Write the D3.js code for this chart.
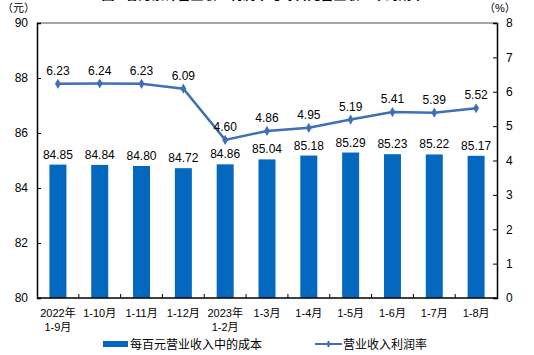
<!DOCTYPE html>
<html><head><meta charset="utf-8">
<script src="https://cdn.jsdelivr.net/npm/d3@7/dist/d3.min.js"></script>
<style>
html,body{margin:0;padding:0;background:#fff;}
svg{display:block;}
text{font-family:"Liberation Sans",Arial,"Noto Sans CJK SC",sans-serif;fill:#000;}
.cjk{font-family:"Liberation Sans","Noto Sans CJK SC",sans-serif;}
</style></head>
<body>
<svg id="c" width="534" height="355"></svg>
<script>
const categories = [["2022年","1-9月"],["1-10月"],["1-11月"],["1-12月"],["2023年","1-2月"],["1-3月"],["1-4月"],["1-5月"],["1-6月"],["1-7月"],["1-8月"]];
const costPer100 = [84.85,84.84,84.80,84.72,84.86,85.04,85.18,85.29,85.23,85.22,85.17];
const profitRate = [6.23,6.24,6.23,6.09,4.60,4.86,4.95,5.19,5.41,5.39,5.52];
const leftTicks = [80,82,84,86,88,90];
const rightTicks = [0,1,2,3,4,5,6,7,8];
const seriesNames = ["每百元营业收入中的成本","营业收入利润率"];
const title = "图2  各月累计营业收入利润率与每百元营业收入中的成本";

const svg = d3.select("#c");
const L=37, R=497, T=23, B=298;
const barColor="#0568BF", lineColor="#3F6FB7";

const xb = d3.scaleBand().domain(d3.range(categories.length)).range([L,R]);
const yL = d3.scaleLinear().domain([80,90]).range([B,T]);
const yR = d3.scaleLinear().domain([0,8]).range([B,T]);

// title (clipped at top, as in the reference)
svg.append("text").attr("x",263).attr("y",-1).attr("text-anchor","middle")
  .attr("class","cjk").style("font-size","13px").style("font-weight","bold").text(title);

// bars
svg.selectAll("rect.bar").data(costPer100).join("rect").attr("class","bar")
  .attr("x",(d,i)=>xb(i)+xb.bandwidth()/2-8.5).attr("width",17)
  .attr("y",d=>yL(d)).attr("height",d=>B-yL(d)).attr("fill",barColor);

// bar labels
svg.selectAll("text.bl").data(costPer100).join("text").attr("class","bl")
  .attr("x",(d,i)=>xb(i)+xb.bandwidth()/2).attr("y",d=>yL(d)-6)
  .attr("text-anchor","middle").style("font-size","12px").text(d=>d.toFixed(2));

// frame: top gray
svg.append("line").attr("x1",L).attr("x2",R).attr("y1",T).attr("y2",T).attr("stroke","#888").attr("stroke-width",1.5);

// left axis
const gl = svg.append("g").attr("transform",`translate(${L},0)`)
  .call(d3.axisLeft(yL).tickValues(leftTicks).tickSize(-4).tickPadding(9).tickFormat(d3.format("d")));
gl.select(".domain").attr("stroke","#000").attr("stroke-width",1.5);
gl.selectAll(".tick line").attr("stroke","#000");
gl.selectAll(".tick text").style("font-size","12px").style("font-family","Liberation Sans, Arial, sans-serif");

// right axis
const gr = svg.append("g").attr("transform",`translate(${R},0)`)
  .call(d3.axisRight(yR).tickValues(rightTicks).tickSize(-4).tickPadding(9).tickFormat(d3.format("d")));
gr.select(".domain").attr("stroke","#000").attr("stroke-width",1.5);
gr.selectAll(".tick line").attr("stroke","#000");
gr.selectAll(".tick text").style("font-size","12px").style("font-family","Liberation Sans, Arial, sans-serif");

// bottom axis
svg.append("line").attr("x1",L).attr("x2",R).attr("y1",B).attr("y2",B).attr("stroke","#000").attr("stroke-width",1.5);
svg.selectAll("line.xt").data(d3.range(1,categories.length)).join("line").attr("class","xt")
  .attr("x1",d=>xb(d)).attr("x2",d=>xb(d)).attr("y1",B).attr("y2",B-4).attr("stroke","#000");

// x labels
categories.forEach((lines,i)=>{
  lines.forEach((s,j)=>{
    svg.append("text").attr("class","cjk").attr("x",xb(i)+xb.bandwidth()/2).attr("y",317+j*14)
      .attr("text-anchor","middle").style("font-size","11px").text(s);
  });
});

// line
const pts = profitRate.map((d,i)=>[xb(i)+xb.bandwidth()/2, yR(d)]);
svg.append("path").attr("d",d3.line()(pts)).attr("fill","none").attr("stroke",lineColor).attr("stroke-width",2.5);
svg.selectAll("path.mk").data(pts).join("path").attr("class","mk")
  .attr("d",d3.symbol(d3.symbolDiamond,30)).attr("transform",d=>`translate(${d[0]},${d[1]})`).attr("fill",lineColor);
svg.selectAll("text.ll").data(profitRate).join("text").attr("class","ll")
  .attr("x",(d,i)=>pts[i][0]).attr("y",d=>yR(d)-9)
  .attr("text-anchor","middle").style("font-size","12px").text(d=>d.toFixed(2));

// unit labels
svg.append("text").attr("class","cjk").attr("x",2).attr("y",12).style("font-size","11px").text("（元）");
svg.append("text").attr("class","cjk").attr("x",484).attr("y",12).style("font-size","11px").text("（%）");

// legend
svg.append("rect").attr("x",103).attr("y",341).attr("width",25).attr("height",6).attr("fill",barColor);
svg.append("text").attr("class","cjk").attr("x",130).attr("y",349).style("font-size","12px").text(seriesNames[0]);
svg.append("line").attr("x1",315).attr("x2",342).attr("y1",344).attr("y2",344).attr("stroke",lineColor).attr("stroke-width",2);
svg.append("path").attr("d",d3.symbol(d3.symbolDiamond,16)).attr("transform","translate(328.5,344)").attr("fill",lineColor);
svg.append("text").attr("class","cjk").attr("x",343).attr("y",349).style("font-size","12px").text(seriesNames[1]);
</script>
</body></html>
